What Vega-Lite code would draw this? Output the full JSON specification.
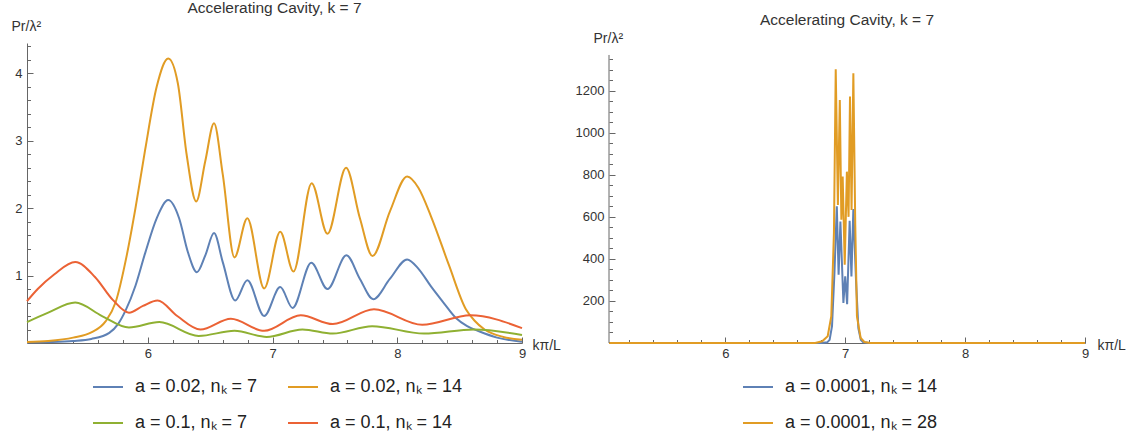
{
  "$schema": "https://vega.github.io/schema/vega-lite/v6.json",
  "padding": {"left": 11, "top": 0, "right": 2, "bottom": 2},
  "background": "white",
  "config": {
    "view": {"stroke": null},
    "font": "Liberation Sans",
    "axis": {"grid": false, "domainColor": "#666", "tickColor": "#666", "labelColor": "#333", "labelFont": "Liberation Sans", "labelFontSize": 13, "titleFont": "Liberation Sans", "titleFontSize": 14, "titleFontWeight": "normal", "titleColor": "#333", "labelOverlap": false, "labelFlush": false, "domainWidth": 1, "tickWidth": 1},
    "title": {"fontSize": 15.5, "fontWeight": "normal", "font": "Liberation Sans", "color": "#333", "offset": 3},
    "legend": {"labelFont": "Liberation Sans", "labelFontSize": 18, "labelColor": "#222", "symbolType": "stroke", "symbolSize": 900, "symbolStrokeWidth": 2, "labelOffset": 11, "padding": 0, "rowPadding": 11, "columnPadding": 26, "gridAlign": "none", "title": null}
  },
  "datasets": {
    "left": [
      {"s": "a = 0.02, nₖ = 7", "x": 5.03, "y": 0.01},
      {"s": "a = 0.02, nₖ = 7", "x": 5.2, "y": 0.015},
      {"s": "a = 0.02, nₖ = 7", "x": 5.4, "y": 0.03},
      {"s": "a = 0.02, nₖ = 7", "x": 5.546, "y": 0.06},
      {"s": "a = 0.02, nₖ = 7", "x": 5.69, "y": 0.15},
      {"s": "a = 0.02, nₖ = 7", "x": 5.76, "y": 0.28},
      {"s": "a = 0.02, nₖ = 7", "x": 5.82, "y": 0.48},
      {"s": "a = 0.02, nₖ = 7", "x": 5.9, "y": 0.85},
      {"s": "a = 0.02, nₖ = 7", "x": 5.977, "y": 1.33},
      {"s": "a = 0.02, nₖ = 7", "x": 6.07, "y": 1.85},
      {"s": "a = 0.02, nₖ = 7", "x": 6.163, "y": 2.12},
      {"s": "a = 0.02, nₖ = 7", "x": 6.25, "y": 1.85},
      {"s": "a = 0.02, nₖ = 7", "x": 6.32, "y": 1.35},
      {"s": "a = 0.02, nₖ = 7", "x": 6.393, "y": 1.05},
      {"s": "a = 0.02, nₖ = 7", "x": 6.46, "y": 1.3},
      {"s": "a = 0.02, nₖ = 7", "x": 6.53, "y": 1.63},
      {"s": "a = 0.02, nₖ = 7", "x": 6.6, "y": 1.2},
      {"s": "a = 0.02, nₖ = 7", "x": 6.7, "y": 0.63},
      {"s": "a = 0.02, nₖ = 7", "x": 6.797, "y": 0.93},
      {"s": "a = 0.02, nₖ = 7", "x": 6.932, "y": 0.4},
      {"s": "a = 0.02, nₖ = 7", "x": 7.061, "y": 0.83},
      {"s": "a = 0.02, nₖ = 7", "x": 7.16, "y": 0.52},
      {"s": "a = 0.02, nₖ = 7", "x": 7.31, "y": 1.19},
      {"s": "a = 0.02, nₖ = 7", "x": 7.44, "y": 0.8},
      {"s": "a = 0.02, nₖ = 7", "x": 7.592, "y": 1.3},
      {"s": "a = 0.02, nₖ = 7", "x": 7.7, "y": 0.95},
      {"s": "a = 0.02, nₖ = 7", "x": 7.807, "y": 0.65},
      {"s": "a = 0.02, nₖ = 7", "x": 7.94, "y": 0.95},
      {"s": "a = 0.02, nₖ = 7", "x": 8.079, "y": 1.24},
      {"s": "a = 0.02, nₖ = 7", "x": 8.17, "y": 1.1},
      {"s": "a = 0.02, nₖ = 7", "x": 8.27, "y": 0.84},
      {"s": "a = 0.02, nₖ = 7", "x": 8.37, "y": 0.6},
      {"s": "a = 0.02, nₖ = 7", "x": 8.47, "y": 0.37},
      {"s": "a = 0.02, nₖ = 7", "x": 8.56, "y": 0.25},
      {"s": "a = 0.02, nₖ = 7", "x": 8.66, "y": 0.17},
      {"s": "a = 0.02, nₖ = 7", "x": 8.8, "y": 0.08},
      {"s": "a = 0.02, nₖ = 7", "x": 9.0, "y": 0.02},

      {"s": "a = 0.02, nₖ = 14", "x": 5.03, "y": 0.015},
      {"s": "a = 0.02, nₖ = 14", "x": 5.2, "y": 0.03},
      {"s": "a = 0.02, nₖ = 14", "x": 5.4, "y": 0.08},
      {"s": "a = 0.02, nₖ = 14", "x": 5.55, "y": 0.16},
      {"s": "a = 0.02, nₖ = 14", "x": 5.66, "y": 0.32},
      {"s": "a = 0.02, nₖ = 14", "x": 5.74, "y": 0.6},
      {"s": "a = 0.02, nₖ = 14", "x": 5.83, "y": 1.3},
      {"s": "a = 0.02, nₖ = 14", "x": 5.9, "y": 2.0},
      {"s": "a = 0.02, nₖ = 14", "x": 5.977, "y": 2.86},
      {"s": "a = 0.02, nₖ = 14", "x": 6.07, "y": 3.8},
      {"s": "a = 0.02, nₖ = 14", "x": 6.163, "y": 4.22},
      {"s": "a = 0.02, nₖ = 14", "x": 6.24, "y": 3.85},
      {"s": "a = 0.02, nₖ = 14", "x": 6.31, "y": 2.8},
      {"s": "a = 0.02, nₖ = 14", "x": 6.387, "y": 2.1},
      {"s": "a = 0.02, nₖ = 14", "x": 6.46, "y": 2.7},
      {"s": "a = 0.02, nₖ = 14", "x": 6.53, "y": 3.26},
      {"s": "a = 0.02, nₖ = 14", "x": 6.6, "y": 2.5},
      {"s": "a = 0.02, nₖ = 14", "x": 6.694, "y": 1.27},
      {"s": "a = 0.02, nₖ = 14", "x": 6.797, "y": 1.85},
      {"s": "a = 0.02, nₖ = 14", "x": 6.932, "y": 0.81},
      {"s": "a = 0.02, nₖ = 14", "x": 7.061, "y": 1.65},
      {"s": "a = 0.02, nₖ = 14", "x": 7.167, "y": 1.06},
      {"s": "a = 0.02, nₖ = 14", "x": 7.313, "y": 2.37},
      {"s": "a = 0.02, nₖ = 14", "x": 7.44, "y": 1.62},
      {"s": "a = 0.02, nₖ = 14", "x": 7.589, "y": 2.6},
      {"s": "a = 0.02, nₖ = 14", "x": 7.7, "y": 1.85},
      {"s": "a = 0.02, nₖ = 14", "x": 7.801, "y": 1.29},
      {"s": "a = 0.02, nₖ = 14", "x": 7.94, "y": 1.95},
      {"s": "a = 0.02, nₖ = 14", "x": 8.079, "y": 2.47},
      {"s": "a = 0.02, nₖ = 14", "x": 8.17, "y": 2.3},
      {"s": "a = 0.02, nₖ = 14", "x": 8.27, "y": 1.88},
      {"s": "a = 0.02, nₖ = 14", "x": 8.415, "y": 1.15},
      {"s": "a = 0.02, nₖ = 14", "x": 8.55, "y": 0.5},
      {"s": "a = 0.02, nₖ = 14", "x": 8.62, "y": 0.33},
      {"s": "a = 0.02, nₖ = 14", "x": 8.7, "y": 0.2},
      {"s": "a = 0.02, nₖ = 14", "x": 8.85, "y": 0.09},
      {"s": "a = 0.02, nₖ = 14", "x": 9.0, "y": 0.05},

      {"s": "a = 0.1, nₖ = 7", "x": 5.03, "y": 0.31},
      {"s": "a = 0.1, nₖ = 7", "x": 5.2, "y": 0.45},
      {"s": "a = 0.1, nₖ = 7", "x": 5.417, "y": 0.6},
      {"s": "a = 0.1, nₖ = 7", "x": 5.632, "y": 0.4},
      {"s": "a = 0.1, nₖ = 7", "x": 5.848, "y": 0.23},
      {"s": "a = 0.1, nₖ = 7", "x": 6.091, "y": 0.31},
      {"s": "a = 0.1, nₖ = 7", "x": 6.407, "y": 0.105},
      {"s": "a = 0.1, nₖ = 7", "x": 6.694, "y": 0.18},
      {"s": "a = 0.1, nₖ = 7", "x": 6.952, "y": 0.09},
      {"s": "a = 0.1, nₖ = 7", "x": 7.239, "y": 0.2},
      {"s": "a = 0.1, nₖ = 7", "x": 7.483, "y": 0.14},
      {"s": "a = 0.1, nₖ = 7", "x": 7.798, "y": 0.25},
      {"s": "a = 0.1, nₖ = 7", "x": 8.214, "y": 0.14},
      {"s": "a = 0.1, nₖ = 7", "x": 8.616, "y": 0.2},
      {"s": "a = 0.1, nₖ = 7", "x": 9.0, "y": 0.12},

      {"s": "a = 0.1, nₖ = 14", "x": 5.03, "y": 0.62},
      {"s": "a = 0.1, nₖ = 14", "x": 5.116, "y": 0.8},
      {"s": "a = 0.1, nₖ = 14", "x": 5.25, "y": 1.02},
      {"s": "a = 0.1, nₖ = 14", "x": 5.417, "y": 1.2},
      {"s": "a = 0.1, nₖ = 14", "x": 5.575, "y": 0.98},
      {"s": "a = 0.1, nₖ = 14", "x": 5.718, "y": 0.64},
      {"s": "a = 0.1, nₖ = 14", "x": 5.848, "y": 0.45},
      {"s": "a = 0.1, nₖ = 14", "x": 5.96, "y": 0.55},
      {"s": "a = 0.1, nₖ = 14", "x": 6.077, "y": 0.63},
      {"s": "a = 0.1, nₖ = 14", "x": 6.235, "y": 0.4},
      {"s": "a = 0.1, nₖ = 14", "x": 6.421, "y": 0.2},
      {"s": "a = 0.1, nₖ = 14", "x": 6.665, "y": 0.36},
      {"s": "a = 0.1, nₖ = 14", "x": 6.932, "y": 0.18},
      {"s": "a = 0.1, nₖ = 14", "x": 7.225, "y": 0.41},
      {"s": "a = 0.1, nₖ = 14", "x": 7.483, "y": 0.28},
      {"s": "a = 0.1, nₖ = 14", "x": 7.813, "y": 0.5},
      {"s": "a = 0.1, nₖ = 14", "x": 8.2, "y": 0.27},
      {"s": "a = 0.1, nₖ = 14", "x": 8.587, "y": 0.41},
      {"s": "a = 0.1, nₖ = 14", "x": 9.0, "y": 0.22}
    ],
    "right": [
      {"s": "a = 0.0001, nₖ = 14", "x": 5.03, "y": 0},
      {"s": "a = 0.0001, nₖ = 14", "x": 6.8, "y": 0},
      {"s": "a = 0.0001, nₖ = 14", "x": 6.85, "y": 3},
      {"s": "a = 0.0001, nₖ = 14", "x": 6.87, "y": 15},
      {"s": "a = 0.0001, nₖ = 14", "x": 6.89, "y": 80},
      {"s": "a = 0.0001, nₖ = 14", "x": 6.91, "y": 330},
      {"s": "a = 0.0001, nₖ = 14", "x": 6.93, "y": 650},
      {"s": "a = 0.0001, nₖ = 14", "x": 6.945, "y": 325},
      {"s": "a = 0.0001, nₖ = 14", "x": 6.96, "y": 578},
      {"s": "a = 0.0001, nₖ = 14", "x": 6.985, "y": 190},
      {"s": "a = 0.0001, nₖ = 14", "x": 7.0, "y": 317},
      {"s": "a = 0.0001, nₖ = 14", "x": 7.016, "y": 185},
      {"s": "a = 0.0001, nₖ = 14", "x": 7.037, "y": 581},
      {"s": "a = 0.0001, nₖ = 14", "x": 7.052, "y": 317},
      {"s": "a = 0.0001, nₖ = 14", "x": 7.068, "y": 637},
      {"s": "a = 0.0001, nₖ = 14", "x": 7.09, "y": 300},
      {"s": "a = 0.0001, nₖ = 14", "x": 7.11, "y": 70},
      {"s": "a = 0.0001, nₖ = 14", "x": 7.13, "y": 15},
      {"s": "a = 0.0001, nₖ = 14", "x": 7.15, "y": 3},
      {"s": "a = 0.0001, nₖ = 14", "x": 7.2, "y": 0},
      {"s": "a = 0.0001, nₖ = 14", "x": 9.0, "y": 0},

      {"s": "a = 0.0001, nₖ = 28", "x": 5.03, "y": 0},
      {"s": "a = 0.0001, nₖ = 28", "x": 6.75, "y": 0},
      {"s": "a = 0.0001, nₖ = 28", "x": 6.808, "y": 8},
      {"s": "a = 0.0001, nₖ = 28", "x": 6.854, "y": 32},
      {"s": "a = 0.0001, nₖ = 28", "x": 6.884, "y": 127},
      {"s": "a = 0.0001, nₖ = 28", "x": 6.906, "y": 523},
      {"s": "a = 0.0001, nₖ = 28", "x": 6.921, "y": 1302},
      {"s": "a = 0.0001, nₖ = 28", "x": 6.939, "y": 657},
      {"s": "a = 0.0001, nₖ = 28", "x": 6.955, "y": 1156},
      {"s": "a = 0.0001, nₖ = 28", "x": 6.968, "y": 586},
      {"s": "a = 0.0001, nₖ = 28", "x": 6.979, "y": 792},
      {"s": "a = 0.0001, nₖ = 28", "x": 6.996, "y": 372},
      {"s": "a = 0.0001, nₖ = 28", "x": 7.014, "y": 815},
      {"s": "a = 0.0001, nₖ = 28", "x": 7.028, "y": 600},
      {"s": "a = 0.0001, nₖ = 28", "x": 7.04, "y": 1172},
      {"s": "a = 0.0001, nₖ = 28", "x": 7.053, "y": 633},
      {"s": "a = 0.0001, nₖ = 28", "x": 7.068, "y": 1283},
      {"s": "a = 0.0001, nₖ = 28", "x": 7.084, "y": 560},
      {"s": "a = 0.0001, nₖ = 28", "x": 7.098, "y": 127},
      {"s": "a = 0.0001, nₖ = 28", "x": 7.129, "y": 24},
      {"s": "a = 0.0001, nₖ = 28", "x": 7.16, "y": 5},
      {"s": "a = 0.0001, nₖ = 28", "x": 7.21, "y": 0},
      {"s": "a = 0.0001, nₖ = 28", "x": 9.0, "y": 0}
    ],
    "raxis": [
      {"x": 5.03, "y": 0, "y2": 1370}
    ]
  },
  "spacing": 14,
  "hconcat": [
    {
      "width": 495,
      "height": 300,
      "title": {"text": "Accelerating Cavity, k = 7"},
      "data": {"name": "left"},
      "mark": {"type": "line", "interpolate": "monotone", "strokeWidth": 2},
      "encoding": {
        "x": {
          "field": "x", "type": "quantitative",
          "scale": {"domain": [5.03, 9], "nice": false, "zero": false},
          "axis": {
            "values": [5.2, 5.4, 5.6, 5.8, 6, 6.2, 6.4, 6.6, 6.8, 7, 7.2, 7.4, 7.6, 7.8, 8, 8.2, 8.4, 8.6, 8.8, 9],
            "labelExpr": "datum.value % 1 === 0 ? format(datum.value, 'd') : ''",
            "tickSize": {"condition": {"test": "datum.value % 1 === 0", "value": -6}, "value": -3.5},
            "labelPadding": 10,
            "title": "kπ/L", "titleX": 505, "titleY": 2, "titleAlign": "left", "titleBaseline": "middle", "titleAngle": 0
          }
        },
        "y": {
          "field": "y", "type": "quantitative",
          "scale": {"domain": [0, 4.45], "nice": false},
          "axis": {
            "values": [0.2, 0.4, 0.6, 0.8, 1, 1.2, 1.4, 1.6, 1.8, 2, 2.2, 2.4, 2.6, 2.8, 3, 3.2, 3.4, 3.6, 3.8, 4, 4.2, 4.4],
            "labelExpr": "datum.value % 1 === 0 ? format(datum.value, 'd') : ''",
            "tickSize": {"condition": {"test": "datum.value % 1 === 0", "value": -6}, "value": -3.5},
            "labelPadding": 11,
            "title": "Pr/λ²", "titleX": -16, "titleY": -17, "titleAlign": "left", "titleBaseline": "middle", "titleAngle": 0
          }
        },
        "color": {
          "field": "s", "type": "nominal",
          "scale": {"domain": ["a = 0.02, nₖ = 7", "a = 0.02, nₖ = 14", "a = 0.1, nₖ = 7", "a = 0.1, nₖ = 14"], "range": ["#5E81B5", "#E19C24", "#8FB032", "#EB6235"]},
          "legend": {"orient": "none", "legendX": 65, "legendY": 328, "columns": 2, "direction": "horizontal"}
        }
      }
    },
    {
      "width": 476,
      "height": 300,
      "title": {"text": "Accelerating Cavity, k = 7"},
      "encoding": {
        "x": {
          "field": "x", "type": "quantitative",
          "scale": {"domain": [5.03, 9], "nice": false, "zero": false},
          "axis": {
            "values": [5.2, 5.4, 5.6, 5.8, 6, 6.2, 6.4, 6.6, 6.8, 7, 7.2, 7.4, 7.6, 7.8, 8, 8.2, 8.4, 8.6, 8.8, 9],
            "labelExpr": "datum.value % 1 === 0 ? format(datum.value, 'd') : ''",
            "tickSize": {"condition": {"test": "datum.value % 1 === 0", "value": -6}, "value": -3.5},
            "labelPadding": 10,
            "title": "kπ/L", "titleX": 488, "titleY": 2, "titleAlign": "left", "titleBaseline": "middle", "titleAngle": 0
          }
        },
        "y": {
          "field": "y", "type": "quantitative",
          "scale": {"domain": [0, 1427], "nice": false},
          "axis": {
            "domain": false,
            "values": [50, 100, 150, 200, 250, 300, 350, 400, 450, 500, 550, 600, 650, 700, 750, 800, 850, 900, 950, 1000, 1050, 1100, 1150, 1200, 1250, 1300, 1350],
            "labelExpr": "datum.value % 200 === 0 ? format(datum.value, 'd') : ''",
            "tickSize": {"condition": {"test": "datum.value % 200 === 0", "value": -6}, "value": -3.5},
            "labelPadding": 11,
            "title": "Pr/λ²", "titleX": -16, "titleY": -5, "titleAlign": "left", "titleBaseline": "middle", "titleAngle": 0
          }
        }
      },
      "layer": [
        {
          "data": {"name": "right"},
          "mark": {"type": "line", "interpolate": "linear", "strokeWidth": 2},
          "encoding": {
            "color": {
              "field": "s", "type": "nominal",
              "scale": {"domain": ["a = 0.0001, nₖ = 14", "a = 0.0001, nₖ = 28"], "range": ["#5E81B5", "#E19C24"]},
              "legend": {"orient": "none", "legendX": 133, "legendY": 328, "columns": 1}
            }
          }
        },
        {
          "data": {"name": "raxis"},
          "mark": {"type": "rule", "color": "#666", "strokeWidth": 1},
          "encoding": {
            "y2": {"field": "y2"}
          }
        }
      ]
    }
  ],
  "resolve": {"scale": {"color": "independent"}}
}
